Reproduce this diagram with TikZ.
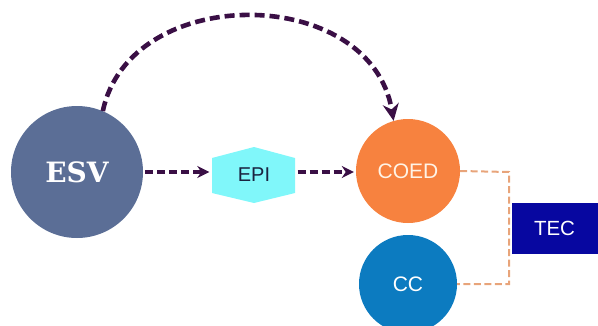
\documentclass[tikz,border=0pt]{standalone}
\usepackage{fontspec}
\setmainfont{Liberation Sans}
\newfontfamily\slabfont{DejaVu Serif}
\usetikzlibrary{arrows.meta}
\definecolor{esvc}{HTML}{5B6E96}
\definecolor{coedc}{HTML}{F7823F}
\definecolor{ccc}{HTML}{0C7BC0}
\definecolor{epic}{HTML}{80F7FA}
\definecolor{tecc}{HTML}{0707A0}
\definecolor{arrc}{HTML}{3A0F45}
\definecolor{linkc}{HTML}{E8A47A}
\definecolor{epitext}{HTML}{1A2340}
\definecolor{cream}{HTML}{FFF3E6}
\tikzset{
  bubble/.style={circle,inner sep=0pt,text=white,font=\fontsize{21}{25}\selectfont},
  flow/.style={draw=arrc,line width=3.2pt,dash pattern=on 8pt off 4pt,
    -{Stealth[length=12pt,width=12pt]}},
  bigflow/.style={draw=arrc,line width=4.6pt,dash pattern=on 10pt off 5pt,
    -{Stealth[length=17pt,width=16pt]}},
  link/.style={draw=linkc,line width=2pt,dash pattern=on 7pt off 3.5pt}
}
\begin{document}
\begin{tikzpicture}[x=1pt,y=-1pt]
\useasboundingbox (0,0) rectangle (598,325);
% hexagon for EPI
\fill[epic] (212,158) -- (254,147) -- (295,158) -- (295,193) -- (254,203) -- (212,193) -- cycle;
\node[bubble,fill=esvc,minimum size=132pt,font=\slabfont\bfseries\fontsize{28}{32}\selectfont] (esv) at (77,172) {ESV};
\node[inner sep=0pt,minimum width=83pt,minimum height=56pt,text=epitext,font=\fontsize{20}{24}\selectfont] (epi) at (254,175) {EPI};
\node[bubble,fill=coedc,minimum size=104pt,text=cream] (coed) at (408,171) {COED};
\node[bubble,fill=ccc,minimum size=98pt] (cc) at (408,284) {CC};
\node[fill=tecc,inner sep=0pt,minimum width=86pt,minimum height=51pt,text=white,font=\fontsize{20.5}{24}\selectfont] (tec) at (554.5,228.5) {TEC};
\draw[flow,shorten <=2pt,shorten >=3pt] (esv.east) -- (epi.west |- esv.east);
\draw[flow,shorten <=2pt,shorten >=2pt] (epi.east |- esv.east) -- (coed.west |- esv.east);
\draw[bigflow] (esv.67) .. controls +(27,-129) and +(-23,-137) .. (coed.106);
\coordinate (bend) at (509,172);
\draw[link] (coed.east) -- (bend) |- (cc.east);
\end{tikzpicture}
\end{document}
